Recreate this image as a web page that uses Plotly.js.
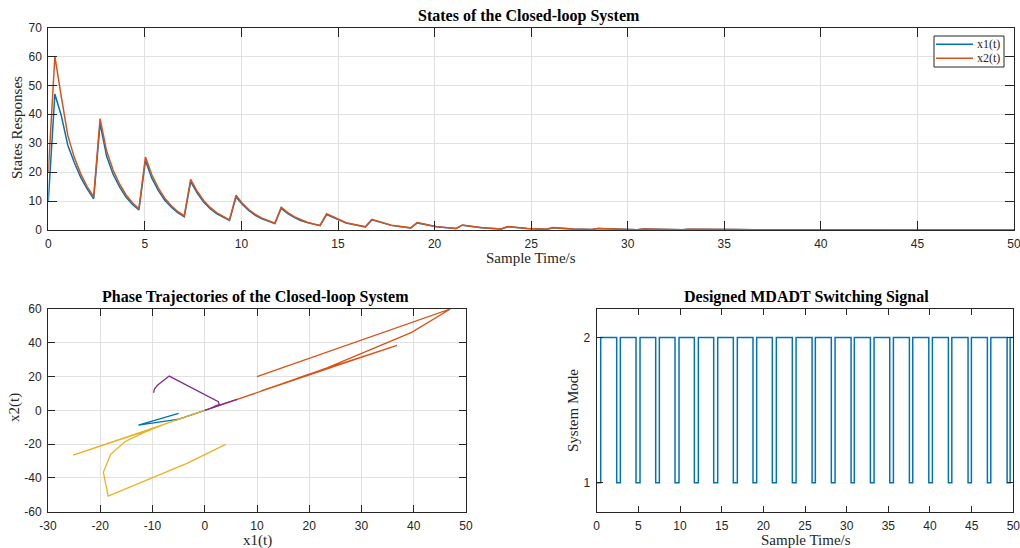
<!DOCTYPE html>
<html>
<head>
<meta charset="utf-8">
<script src="https://cdn.plot.ly/plotly-3.0.1.min.js"></script>
<style>html,body{margin:0;padding:0;background:#fff;}#chart{width:1020px;height:548px;}</style>
</head>
<body>
<div id="chart"></div>
<script>
// ---------- States of the closed-loop system (sample time, x1, x2) ----------
const t = [0,0.34,0.67,1.01,1.34,1.68,2.01,
  2.35,2.68,3.02,3.35,3.69,4.02,4.36,
  4.69,5.03,5.36,5.70,6.03,6.37,6.70,
  7.04,7.37,7.71,8.04,8.38,8.71,9.05,
  9.38,9.72,10.05,10.39,10.72,11.06,11.39,
  11.73,12.06,12.40,12.73,13.07,13.40,13.74,
  14.07,14.41,15.42, 16.42,16.75,17.76, 18.76,19.10,20.10, 21.11,21.44,22.45,
  23.45,23.79,24.80, 25.80,26.13,27.14, 28.14,28.48,29.49, 30.49,30.82,31.83,
  32.83,33.17,34.18, 35.18,35.51,36.52, 37.52,37.86,38.87, 39.87,40.20,41.21,
  42.21,42.55,43.56, 44.56,44.89,45.90, 46.90,47.24,48.25, 49.25,49.58,50];
const x1 = [10,47,39.6,29.3,23.4,18.2,14.2,
  10.8,36.8,25.5,19.4,14.9,11.4,8.8,
  6.9,24.0,17.9,13.6,10.3,7.9,6.0,
  4.6,16.7,12.8,9.7,7.4,5.7,4.4,
  3.3,11.4,8.8,6.7,5.1,3.9,3.0,
  2.25,7.5,5.7,4.4,3.3,2.6,1.95,
  1.5,5.35,2.4, 1.05,3.5,1.6, 0.7,2.45,1.1, 0.49,1.67,0.75,
  0.33,1.15,0.52, 0.23,0.78,0.35, 0.16,0.53,0.24, 0.105,0.36,0.16,
  0.072,0.25,0.11, 0.05,0.17,0.077, 0.034,0.115,0.052, 0.023,0.078,0.035,
  0.016,0.053,0.024, 0.011,0.036,0.016, 0.007,0.025,0.011, 0.005,0.017,0.01];
const x2 = [20,60,46.2,32.7,25.2,19.4,15.0,
  11.5,38.5,27.3,20.8,15.9,12.2,9.4,
  7.3,25.2,19.1,14.5,11.0,8.4,6.4,
  4.85,17.5,13.4,10.2,7.8,6.0,4.6,
  3.5,12.0,9.2,7.0,5.4,4.1,3.1,
  2.35,7.9,6.0,4.6,3.5,2.7,2.05,
  1.6,5.6,2.5, 1.1,3.7,1.67, 0.74,2.55,1.15, 0.51,1.75,0.79,
  0.35,1.2,0.54, 0.24,0.82,0.37, 0.165,0.56,0.25, 0.11,0.38,0.17,
  0.076,0.26,0.12, 0.052,0.18,0.08, 0.036,0.12,0.055, 0.024,0.082,0.037,
  0.017,0.056,0.025, 0.011,0.038,0.017, 0.008,0.026,0.012, 0.005,0.018,0.01];

// ---------- Phase trajectories from other initial states ----------
const blueX1 = [-5.0,-12.7,-5.2,-3.9,-3.0,-2.3,-1.75,-5.8,-4.4,-3.3,-2.5,-1.9,-1.45,-1.1,-3.8,-2.9,-2.2,-1.7,-1.3,-1.0,-0.75,-2.5,-1.15,-0.5,-1.7,-0.75,-0.35,0];
const blueX2 = [-1.8,-8.7,-5.3,-4.0,-3.1,-2.4,-1.85,-6.1,-4.6,-3.5,-2.6,-2.0,-1.5,-1.15,-4.0,-3.0,-2.3,-1.8,-1.35,-1.05,-0.8,-2.6,-1.2,-0.55,-1.8,-0.8,-0.35,0];
const yelX1 = [4.0,-3.4,-18.5,-19.4,-18.0,-15.3,-11.8,-9.2,-7.1,-25.2,-19.0,-14.4,-10.9,-8.3,-6.3,-4.9,-16.8,-12.6,-9.5,-7.2,-5.5,-4.2,-3.3,-11.3,-8.5,-6.4,-4.9,-3.7,-2.8,-2.2,-7.6,-5.7,-4.3,-3.3,-2.5,-1.9,-1.5,-5.1,-2.2,-1.0,-3.4,-1.5,-0.7,-2.3,-1.0,-0.5,0];
const yelX2 = [-20.1,-31.4,-50.7,-36.7,-26.0,-18.6,-13.3,-9.9,-7.5,-26.5,-20.3,-15.5,-11.8,-9.0,-6.9,-5.2,-17.7,-13.6,-10.3,-7.9,-6.0,-4.6,-3.5,-11.9,-9.2,-7.0,-5.3,-4.1,-3.1,-2.3,-8.0,-6.2,-4.7,-3.6,-2.7,-2.1,-1.6,-5.4,-2.4,-1.1,-3.6,-1.6,-0.7,-2.4,-1.1,-0.5,0];
const purX1 = [-9.8,-9.6,-9.0,-6.8,2.6,2.8,2.1,1.6,1.2,6.2,4.6,3.5,2.6,2.0,1.5,1.2,4.1,3.1,2.3,1.8,1.4,1.05,0.8,2.8,1.3,0.55,1.9,0.85,0.4,1.3,0.6,0];
const purX2 = [10.4,12.8,15.0,20.3,5.1,3.5,2.6,1.9,1.4,6.5,5.0,3.8,2.9,2.2,1.7,1.3,4.4,3.4,2.6,1.95,1.5,1.15,0.85,2.9,1.4,0.6,2.0,0.95,0.4,1.35,0.65,0];

// ---------- Designed MDADT switching signal (mode-1 intervals) ----------
const mode1Start = [0,2.4,4.72,7.08,9.4,11.72,14.04,16.4,18.76,21.08,23.48,25.85,28.16,30.53,32.85,35.17,37.53,39.86,42.21,44.57,46.89,49.26];
const mode1End   = [0.48,2.84,5.2,7.52,9.88,12.2,14.52,16.88,19.2,21.56,23.93,26.24,28.61,30.92,33.29,35.61,37.93,40.29,42.62,44.97,47.3,49.62];
const tEnd = 50;

// ---------- Tick labels ----------
const timeTicks = [0,5,10,15,20,25,30,35,40,45,50];
const stateTicks = [0,10,20,30,40,50,60,70];
const phaseXTicks = [-30,-20,-10,0,10,20,30,40,50];
const phaseYTicks = [-60,-40,-20,0,20,40,60];
const modeTicks = [1,2];
const seriesNames = ['x1(t)','x2(t)'];

const sigT = [], sigM = [];
for (let i = 0; i < mode1Start.length; i++) {
  sigT.push(mode1Start[i]); sigM.push(1);
  sigT.push(mode1End[i]); sigM.push(2);
}
sigT.push(tEnd); sigM.push(2);

const C = {blue:'#0072BD', orange:'#D95319', yellow:'#EDB120', purple:'#7E2F8E'};
const AX = '#262626', GRID = '#e1e1e1';
const tickFont = {family:'Liberation Sans, Arial, sans-serif', size:12, color:AX};
const serif = 'Liberation Serif, Times New Roman, serif';
const lbl = v => String(v); // hyphen-minus like the original

function axis(vals, extra){
  return Object.assign({
    showline:true, linecolor:AX, linewidth:1, mirror:'ticks',
    ticks:'inside', ticklen:9, tickcolor:AX, tickwidth:1,
    showgrid:true, gridcolor:GRID, gridwidth:1, zeroline:false,
    tickfont:tickFont, fixedrange:true, ticklabeloverflow:'allow',
    tickmode:'array', tickvals:vals, ticktext:vals.map(lbl)
  }, extra);
}

const traces = [
  {x:t, y:x1, xaxis:'x', yaxis:'y', mode:'lines', name:seriesNames[0], showlegend:false, line:{color:C.blue, width:1.5}},
  {x:t, y:x2, xaxis:'x', yaxis:'y', mode:'lines', name:seriesNames[1], showlegend:false, line:{color:C.orange, width:1.5}},
  {x:blueX1, y:blueX2, xaxis:'x2', yaxis:'y2', mode:'lines', showlegend:false, line:{color:C.blue, width:1.3}},
  {x:x1, y:x2, xaxis:'x2', yaxis:'y2', mode:'lines', showlegend:false, line:{color:C.orange, width:1.3}},
  {x:yelX1, y:yelX2, xaxis:'x2', yaxis:'y2', mode:'lines', showlegend:false, line:{color:C.yellow, width:1.3}},
  {x:purX1, y:purX2, xaxis:'x2', yaxis:'y2', mode:'lines', showlegend:false, line:{color:C.purple, width:1.3}},
  {x:sigT, y:sigM, xaxis:'x3', yaxis:'y3', mode:'lines', showlegend:false, line:{color:C.blue, width:1.5, shape:'hv'}}
];

function P(px, py){ return {x:px/1020, y:1-py/548}; }
function ann(text, px, py, size, bold, angle, anchor){
  const p = P(px, py);
  return {text: bold ? '<b>'+text+'</b>' : text, x:p.x, y:p.y, xref:'paper', yref:'paper',
    xanchor:anchor||'center', yanchor:'middle', showarrow:false, textangle:angle||0,
    font:{family:serif, size:size, color: bold ? '#000' : AX}};
}
// legend box (decoration)
const LG = {x0:934, x1:1004, y0:36, y1:67, lx0:936, lx1:973, r1:44.3, r2:58.3, tx:975};
const legendShapes = [
  {type:'rect', xref:'paper', yref:'paper', x0:LG.x0/1020, x1:LG.x1/1020, y0:1-LG.y1/548, y1:1-LG.y0/548,
   line:{color:AX, width:1}, fillcolor:'#fff', layer:'above'},
  {type:'line', xref:'paper', yref:'paper', x0:LG.lx0/1020, x1:LG.lx1/1020, y0:1-LG.r1/548, y1:1-LG.r1/548, line:{color:C.blue, width:1.5}, layer:'above'},
  {type:'line', xref:'paper', yref:'paper', x0:LG.lx0/1020, x1:LG.lx1/1020, y0:1-LG.r2/548, y1:1-LG.r2/548, line:{color:C.orange, width:1.5}, layer:'above'}
];

const layout = {
  width:1020, height:548, margin:{l:0,r:0,t:0,b:0},
  paper_bgcolor:'#fff', plot_bgcolor:'#fff', showlegend:false,
  xaxis: axis(timeTicks, {domain:[48.3/1020, 1014/1020], range:[0,50], anchor:'y', ticklabelstandoff:3}),
  yaxis: axis(stateTicks, {domain:[1-230/548, 1-27.5/548], range:[0,70], anchor:'x', ticklabelstandoff:3}),
  xaxis2: axis(phaseXTicks, {domain:[48/1020, 466/1020], range:[-30,50], anchor:'y2', ticklen:7, ticklabelstandoff:3}),
  yaxis2: axis(phaseYTicks, {domain:[1-511.7/548, 1-309/548], range:[-60,60], anchor:'x2', ticklen:7, ticklabelstandoff:3}),
  xaxis3: axis(timeTicks, {domain:[596.7/1020, 1013.3/1020], range:[0,50], anchor:'y3', showgrid:false, ticklen:6, ticklabelstandoff:3}),
  yaxis3: axis(modeTicks, {domain:[1-511.7/548, 1-308.5/548], range:[0.8,2.2], anchor:'x3', showgrid:false, ticklen:6, ticklabelstandoff:3}),
  shapes: legendShapes,
  annotations:[
    ann('States of the Closed-loop System', 529, 16, 16, true),
    ann('Sample Time/s', 531, 258, 15, false),
    ann('States Responses', 17, 128, 15, false, -90),
    ann('Phase Trajectories of the Closed-loop System', 255, 297, 16, true),
    ann('x1(t)', 257, 540, 15, false),
    ann('x2(t)', 14, 408, 15, false, -90),
    ann('Designed MDADT Switching Signal', 806, 297, 16, true),
    ann('Sample Time/s', 806, 540, 15, false),
    ann('System Mode', 573, 411, 15, false, -90),
    ann(seriesNames[0], LG.tx, LG.r1, 12, false, 0, 'left'),
    ann(seriesNames[1], LG.tx, LG.r2, 12, false, 0, 'left')
  ]
};

Plotly.newPlot('chart', traces, layout, {displayModeBar:false, staticPlot:true});
</script>
</body>
</html>
